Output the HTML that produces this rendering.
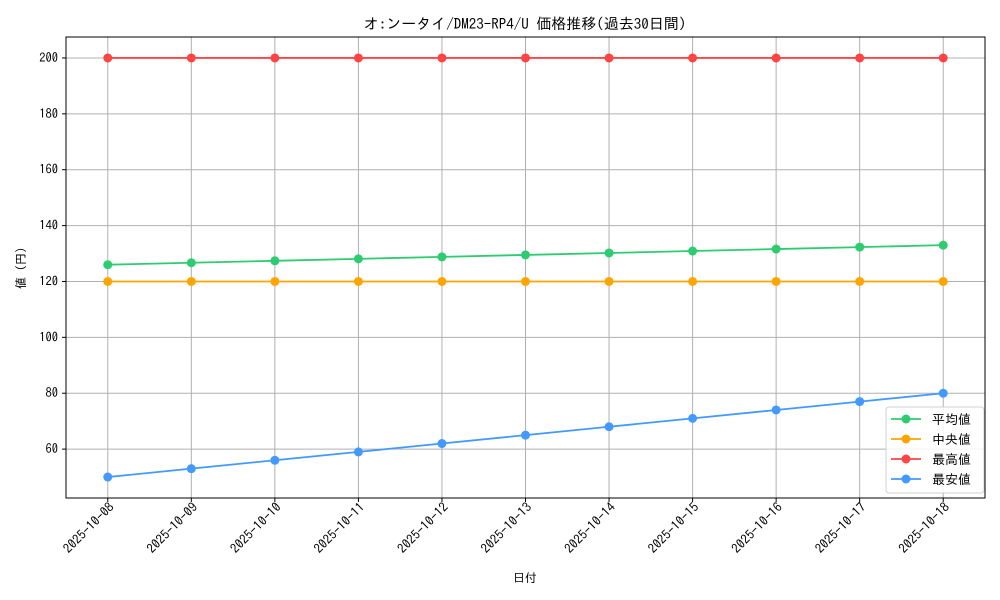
<!DOCTYPE html>
<html><head><meta charset="utf-8"><style>
body{margin:0;background:#fff;}
svg{display:block;font-family:"IPAGothic","Liberation Sans","Noto Sans CJK JP",sans-serif;}
</style></head><body>
<svg id="c" width="1000" height="600"></svg>
<script>
const categories=["2025-10-08","2025-10-09","2025-10-10","2025-10-11","2025-10-12","2025-10-13","2025-10-14","2025-10-15","2025-10-16","2025-10-17","2025-10-18"];
const avgValues=[126,126.7,127.4,128.1,128.8,129.5,130.2,130.9,131.6,132.3,133];
const medianValues=[120,120,120,120,120,120,120,120,120,120,120];
const maxValues=[200,200,200,200,200,200,200,200,200,200,200];
const minValues=[50,53,56,59,62,65,68,71,74,77,80];
const yTicks=[60,80,100,120,140,160,180,200];
const seriesNames=["平均値","中央値","最高値","最安値"];
const seriesColors=["#2ecc71","#ffa500","#ff4444","#4499ff"];

const L=66,R=985,T=37,B=498;
const all=[...avgValues,...medianValues,...maxValues,...minValues];
const dmin=Math.min(...all),dmax=Math.max(...all),pad=(dmax-dmin)*0.05;
const y0=dmin-pad,y1=dmax+pad;
const n=categories.length;
const X=i=>L+(i+0.5)/n*(R-L);
const Y=v=>B-(v-y0)/(y1-y0)*(B-T);
const svg=document.getElementById('c');
const NS="http://www.w3.org/2000/svg";
function mk(tag,attrs,parent){const e=document.createElementNS(NS,tag);for(const k in attrs)e.setAttribute(k,attrs[k]);(parent||svg).appendChild(e);return e;}

categories.forEach((c,i)=>{
  const g=mk('line',{x1:X(i),x2:X(i),y1:T,y2:B,stroke:'#b0b0b0','stroke-width':1});
  
  
  const t=mk('line',{x1:X(i),x2:X(i),y1:B,y2:B+4,stroke:'#000'});
  
  
  const ax=X(i)+7,ay=B+10;
  const lb=mk('text',{x:ax,y:ay,'font-size':13,'text-anchor':'end',transform:`rotate(-45 ${ax} ${ay})`});
  lb.textContent=c;
  
  
});
yTicks.forEach(v=>{
  const g=mk('line',{x1:L,x2:R,y1:Y(v),y2:Y(v),stroke:'#b0b0b0','stroke-width':1});
  
  
  const t=mk('line',{x1:L-4,x2:L,y1:Y(v),y2:Y(v),stroke:'#000'});
  
  
  const lb=mk('text',{x:L-8,y:Y(v)+4,'font-size':12.5,'text-anchor':'end'});
  lb.textContent=v;
  
  
});
const fr=mk('rect',{x:L,y:T,width:R-L,height:B-T,fill:'none',stroke:'#000','stroke-width':1});



const series=[avgValues,medianValues,maxValues,minValues];
series.forEach((vals,s)=>{
  const g=mk('g',{});
  
  
  mk('polyline',{points:vals.map((v,i)=>X(i)+','+Y(v)).join(' '),fill:'none',stroke:seriesColors[s],'stroke-width':1.8},g);
  vals.forEach((v,i)=>{
    const p=mk('circle',{cx:X(i),cy:Y(v),r:4.5,fill:seriesColors[s]},g);
    
    
  });
});

const lg=mk('g',{});


mk('rect',{x:886,y:407,width:98,height:86,rx:3,fill:'#fff','fill-opacity':0.85,stroke:'#d0d0d0'},lg);
seriesNames.forEach((nm,s)=>{
  const yy=419+s*20;
  const e=mk('g',{},lg);
  
  
  mk('line',{x1:891,x2:921,y1:yy,y2:yy,stroke:seriesColors[s],'stroke-width':1.8},e);
  mk('circle',{cx:906,cy:yy,r:4.5,fill:seriesColors[s]},e);
  const t=mk('text',{x:932,y:yy+5,'font-size':13},e);
  t.textContent=nm;
});

const title=mk('text',{x:525,y:29,'font-size':15,'text-anchor':'middle'});
title.textContent="オ:ンータイ/DM23-RP4/U 価格推移(過去30日間)";


const xl=mk('text',{x:525,y:582,'font-size':12,'text-anchor':'middle'});
xl.textContent="日付";


const yl=mk('text',{x:25,y:268,'font-size':12,'text-anchor':'middle',transform:'rotate(-90 25 268)'});
yl.textContent="値 (円)";


</script>
</body></html>
